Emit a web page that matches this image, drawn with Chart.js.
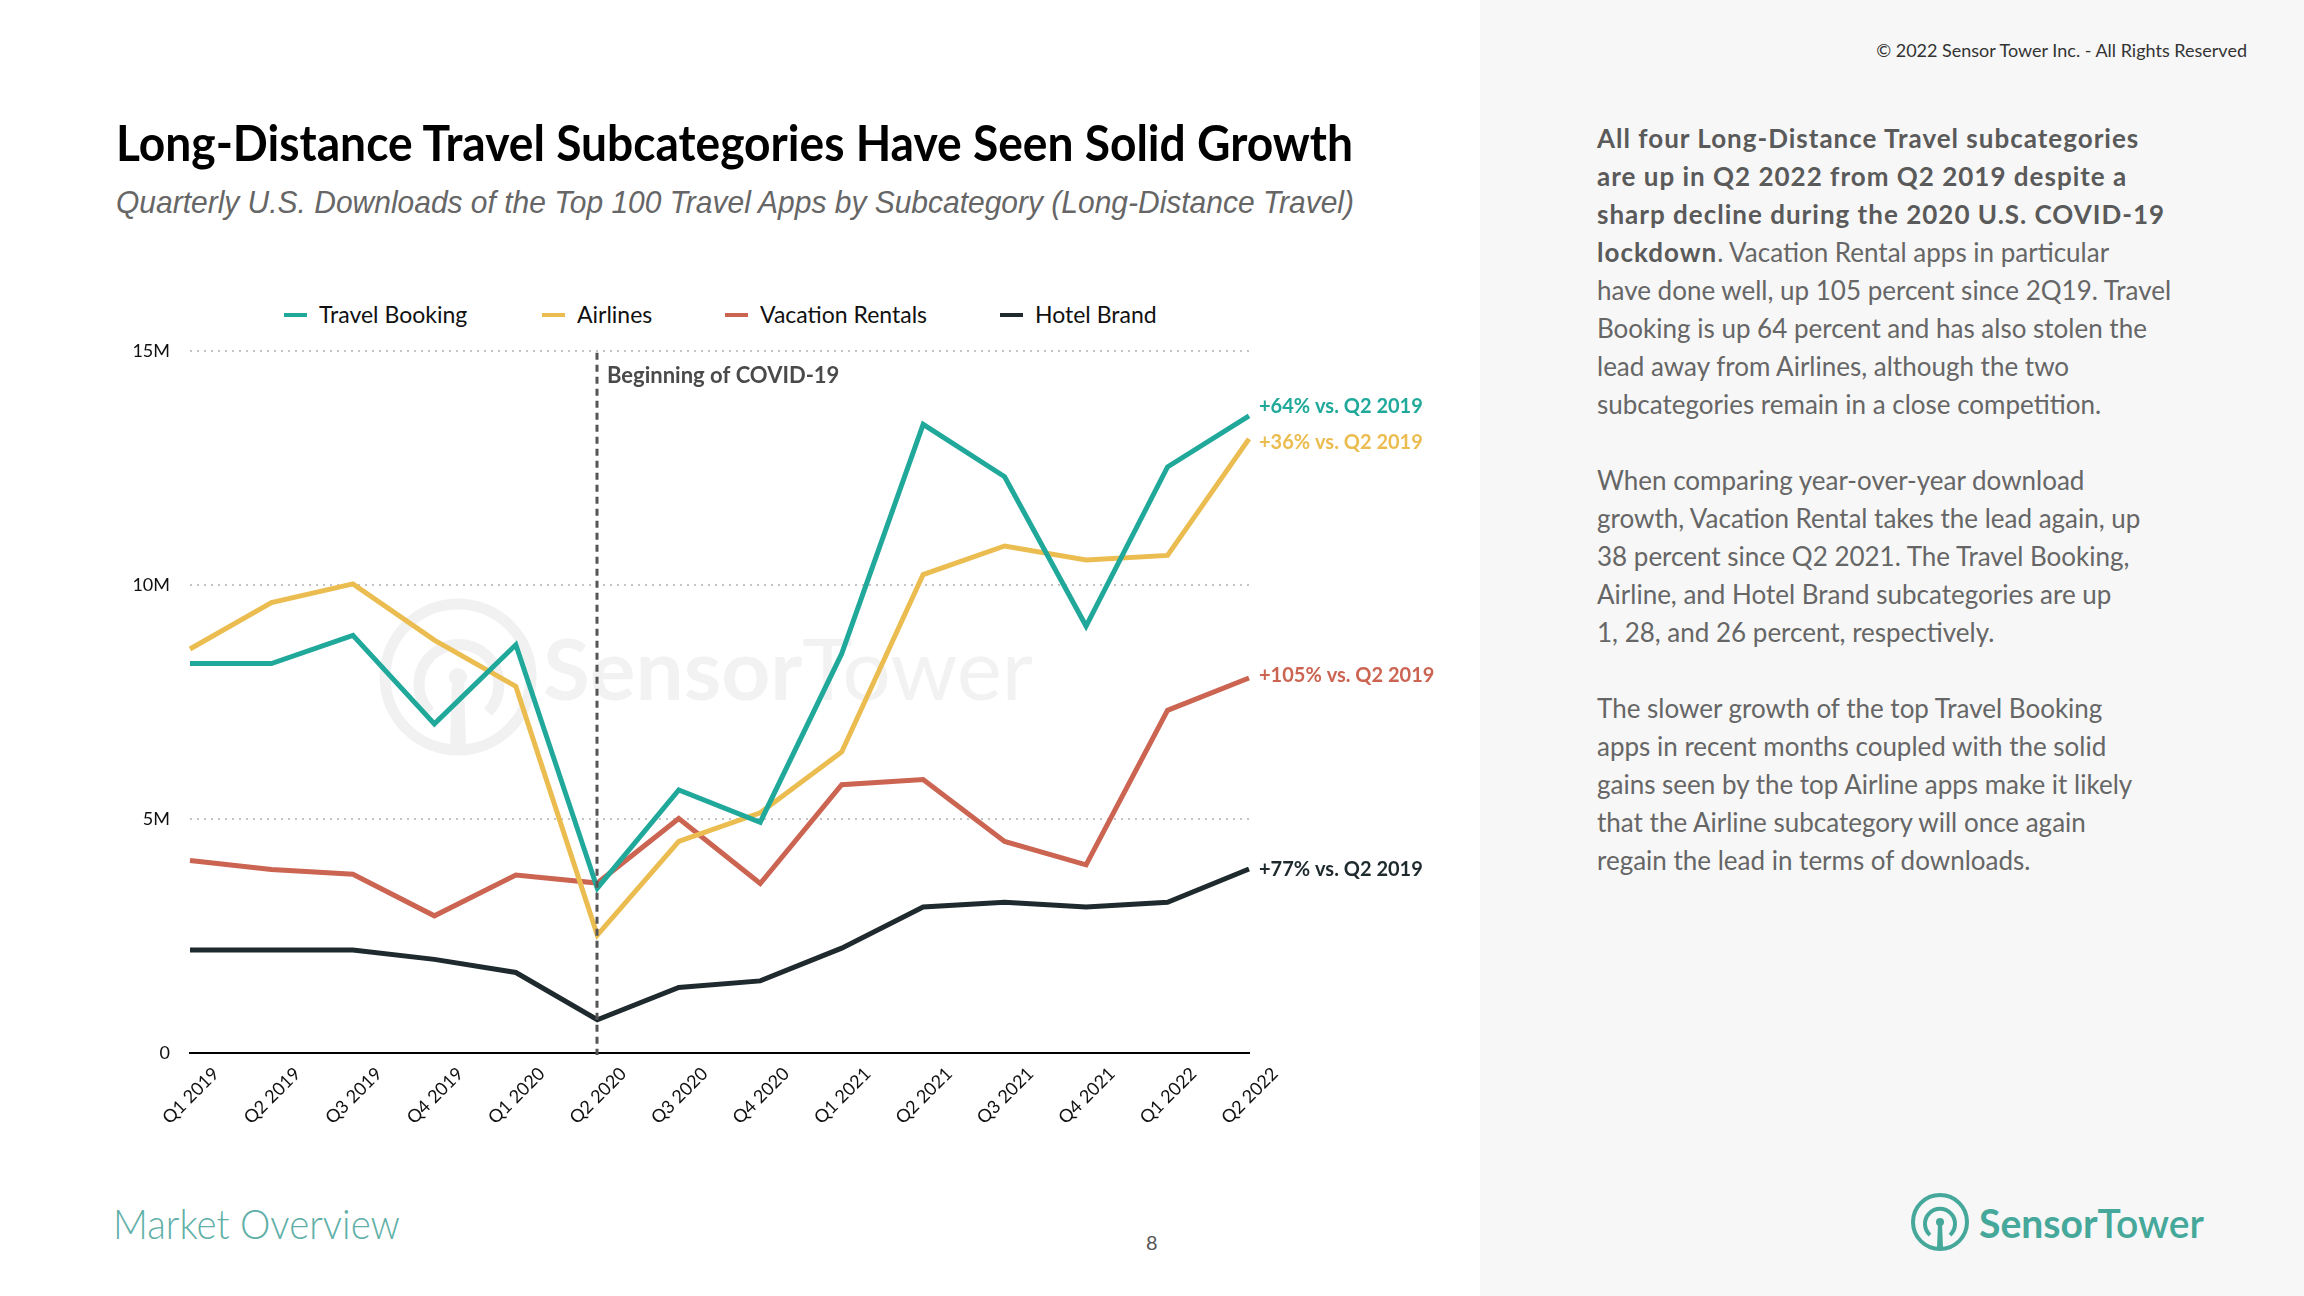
<!DOCTYPE html>
<html><head><meta charset="utf-8">
<script src="https://cdn.jsdelivr.net/npm/chart.js@4"></script>
<style>
html,body{margin:0;padding:0;}
body{width:2304px;height:1296px;position:relative;overflow:hidden;background:#fff;font-family:Lato,"Noto Sans",sans-serif;}
.abs{position:absolute;white-space:nowrap;}
.fit{transform-origin:0 50%;}
#panel{position:absolute;left:1480px;top:0;width:824px;height:1296px;background:#f7f7f7;}
#title{left:116px;top:112px;font-size:50px;line-height:60px;font-weight:700;color:#000;}
#subtitle{left:116px;top:186px;font-family:"Liberation Sans",Arial,sans-serif;font-style:italic;font-size:32px;line-height:32px;color:#666;}
.leg{position:absolute;top:301px;font-size:23px;line-height:27px;color:#111;white-space:nowrap;}
.mk{position:absolute;top:313px;width:23px;height:4px;}
#chartbox{position:absolute;left:100px;top:320px;width:1360px;height:853px;}
#wm{position:absolute;left:0;top:0;}
#wmtext{left:543px;top:616px;font-size:85px;line-height:102px;color:#f2f2f2;font-weight:700;}
#copy{right:57px;top:39px;font-size:18px;color:#333;}
#text{left:1597px;top:119px;font-size:26px;line-height:38px;color:#666;white-space:nowrap;}
#text b{color:#5a5a5a;letter-spacing:1px;}
#mo{left:113px;top:1198px;font-size:42px;line-height:50px;font-weight:300;color:#5fb0a7;}
#pg{left:1146px;top:1230px;font-size:20px;color:#555;}
#logotext{left:1979px;top:1198px;font-size:40px;line-height:50px;color:#45a89a;font-weight:700;}
</style></head>
<body>
<div id="panel"></div>
<svg id="wm" width="1300" height="900" viewBox="0 0 1300 900">
  <g fill="none" stroke="#f1f1f1">
    <circle cx="458" cy="677" r="73" stroke-width="11"/>
    <path d="M 430 712 A 40 40 0 1 1 488 712" stroke-width="11"/>
  </g>
  <circle cx="458" cy="677" r="9" fill="#f1f1f1"/>
  <path d="M 452 680 L 464 680 L 466 748 L 450 748 Z" fill="#f1f1f1"/>
</svg>
<div id="wmtext" class="abs fit" data-w="490">Sensor<span style="font-weight:400">Tower</span></div>

<div id="title" class="abs fit" data-w="1237">Long-Distance Travel Subcategories Have Seen Solid Growth</div>
<div id="subtitle" class="abs fit" data-w="1238">Quarterly U.S. Downloads of the Top 100 Travel Apps by Subcategory (Long-Distance Travel)</div>

<div id="legend"></div>
<div id="chartbox"><canvas id="c"></canvas></div>

<div id="copy" class="abs">© 2022 Sensor Tower Inc. - All Rights Reserved</div>
<div id="text" class="abs"><b>All four Long-Distance Travel subcategories<br>are up in Q2 2022 from Q2 2019 despite a<br>sharp decline during the 2020 U.S. COVID-19<br>lockdown</b>. Vacation Rental apps in particular<br>have done well, up 105 percent since 2Q19. Travel<br>Booking is up 64 percent and has also stolen the<br>lead away from Airlines, although the two<br>subcategories remain in a close competition.<br><br>When comparing year-over-year download<br>growth, Vacation Rental takes the lead again, up<br>38 percent since Q2 2021. The Travel Booking,<br>Airline, and Hotel Brand subcategories are up<br>1, 28, and 26 percent, respectively.<br><br>The slower growth of the top Travel Booking<br>apps in recent months coupled with the solid<br>gains seen by the top Airline apps make it likely<br>that the Airline subcategory will once again<br>regain the lead in terms of downloads.</div>

<div id="mo" class="abs fit" data-w="287">Market Overview</div>
<div id="pg" class="abs">8</div>
<svg class="abs" style="left:1908px;top:1190px" width="64" height="64" viewBox="0 0 64 64">
  <g fill="none" stroke="#45a89a">
    <circle cx="32" cy="32" r="27" stroke-width="4"/>
    <path d="M 22 45 A 15 15 0 1 1 42 45" stroke-width="4"/>
  </g>
  <circle cx="32" cy="32" r="4" fill="#45a89a"/>
  <path d="M 30 33 L 34 33 L 35 58 L 29 58 Z" fill="#45a89a"/>
</svg>
<div id="logotext" class="abs fit" data-w="225">Sensor<span style="font-weight:600">Tower</span></div>

<script>
// ---- data (values in millions of downloads) ----
const quarters = ['Q1 2019','Q2 2019','Q3 2019','Q4 2019','Q1 2020','Q2 2020','Q3 2020','Q4 2020','Q1 2021','Q2 2021','Q3 2021','Q4 2021','Q1 2022','Q2 2022'];
const travelBooking   = [8.32, 8.32, 8.92, 7.03, 8.72, 3.52, 5.62, 4.93, 8.53, 13.43, 12.31, 9.12, 12.52, 13.61];
const airlines        = [8.63, 9.62, 10.02, 8.82, 7.83, 2.52, 4.52, 5.13, 6.43, 10.22, 10.83, 10.53, 10.63, 13.12];
const vacationRentals = [4.11, 3.92, 3.82, 2.93, 3.80, 3.63, 5.01, 3.62, 5.73, 5.84, 4.52, 4.02, 7.32, 8.01];
const hotelBrand      = [2.20, 2.20, 2.20, 2.00, 1.72, 0.71, 1.40, 1.54, 2.24, 3.12, 3.22, 3.12, 3.22, 3.93];
const seriesNames  = ['Travel Booking','Airlines','Vacation Rentals','Hotel Brand'];
const seriesColors = ['#20a99a','#ebbd50','#cc6452','#1f2a2e'];
const endLabels    = ['+64% vs. Q2 2019','+36% vs. Q2 2019','+105% vs. Q2 2019','+77% vs. Q2 2019'];
const yMax = 15, yStep = 5;
const covidQuarter = 'Q2 2020';
const covidLabel = 'Beginning of COVID-19';

// ---- legend (HTML) ----
const legendX = [284, 542, 725, 1000];
const legend = document.getElementById('legend');
seriesNames.forEach((n,i)=>{
  const m = document.createElement('div'); m.className='mk';
  m.style.left = legendX[i]+'px'; m.style.background = seriesColors[i];
  const t = document.createElement('div'); t.className='leg';
  t.style.left = (legendX[i]+35)+'px'; t.textContent = n;
  legend.appendChild(m); legend.appendChild(t);
});

const seriesData = [travelBooking, airlines, vacationRentals, hotelBrand];
const labelDy = [-9, 4, -2, 1];

const annot = {
  id:'annot',
  afterDatasetsDraw(chart){
    const {ctx, chartArea, scales:{x}} = chart;
    ctx.save();
    const cx = Math.round(x.getPixelForValue(quarters.indexOf(covidQuarter)));
    ctx.strokeStyle='#555'; ctx.lineWidth=3; ctx.setLineDash([7,5]);
    ctx.beginPath(); ctx.moveTo(cx, chartArea.top+2); ctx.lineTo(cx, chartArea.bottom+2); ctx.stroke();
    ctx.setLineDash([]);
    ctx.textBaseline='middle'; ctx.textAlign='left';
    ctx.font='bold 22px Lato'; ctx.fillStyle='#4a4a4a';
    ctx.fillText(covidLabel, cx+10, chartArea.top+25);
    ctx.font='bold 20px Lato';
    chart.data.datasets.forEach((ds,i)=>{
      const meta = chart.getDatasetMeta(i);
      const pt = meta.data[meta.data.length-1];
      ctx.fillStyle = ds.borderColor;
      ctx.fillText(endLabels[i], pt.x+10, pt.y+labelDy[i]);
    });
    ctx.restore();
  }
};

Chart.defaults.font.family = 'Lato, "Noto Sans", sans-serif';
new Chart(document.getElementById('c'), {
  type:'line',
  data:{
    labels: quarters,
    datasets: seriesNames.map((n,i)=>({
      label:n, data:seriesData[i], borderColor:seriesColors[i], backgroundColor:seriesColors[i],
      borderWidth:5, pointRadius:0, pointHoverRadius:0, tension:0, fill:false,
      borderJoinStyle:'miter', borderCapStyle:'butt'
    }))
  },
  options:{
    responsive:true, maintainAspectRatio:false, animation:false, devicePixelRatio:1,
    layout:{padding:{top:10,right:211,left:0,bottom:0}},
    plugins:{legend:{display:false}, tooltip:{enabled:false}},
    scales:{
      x:{
        offset:false,
        grid:{display:false, drawTicks:false},
        border:{display:true, color:'#000', width:2},
        ticks:{autoSkip:false, minRotation:45, maxRotation:45, color:'#111', font:{size:18}, padding:10, labelOffset:26},
        afterFit(s){ s.height = 120; }
      },
      y:{
        min:0, max:yMax,
        grid:{drawTicks:false, lineWidth:2, color:(c)=> (c.tick && c.tick.value===0) ? 'rgba(0,0,0,0)' : '#c4c4c4'},
        border:{display:false, dash:[2,5]},
        ticks:{stepSize:yStep, color:'#111', font:{size:18}, padding:20, callback:(v)=> v===0 ? '0' : v+'M'},
        afterFit(s){ s.width = 90; }
      }
    }
  },
  plugins:[annot]
});

function fitAll(){
  document.querySelectorAll('.fit').forEach(el=>{
    el.style.transform='none';
    const w = el.getBoundingClientRect().width;
    const target = +el.dataset.w;
    if (w>0) el.style.transform = 'scaleX('+(target/w)+')';
  });
}
fitAll();
if (document.fonts && document.fonts.ready) document.fonts.ready.then(fitAll);
</script>
</body></html>
